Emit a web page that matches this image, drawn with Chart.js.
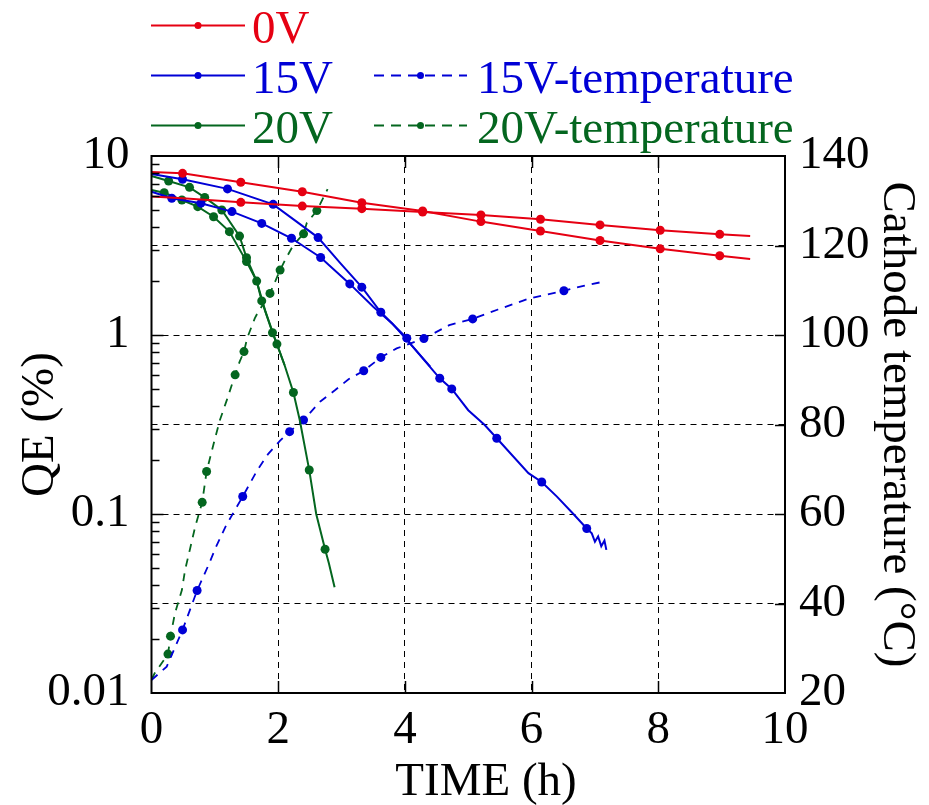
<!DOCTYPE html>
<html>
<head>
<meta charset="utf-8">
<script src="https://cdn.jsdelivr.net/npm/chart.js@4.4.1/dist/chart.umd.min.js"></script>
<style>
html,body{margin:0;padding:0;background:#fff;}
#wrap{width:929px;height:805px;position:relative;}
</style>
</head>
<body>
<div id="wrap"><canvas id="c" width="929" height="805"></canvas></div>
<script>
// ---------- data ----------
const timeMin = 0, timeMax = 10, timeStep = 2;
const qeMin = 0.01, qeMax = 10;
const tempMin = 20, tempMax = 140, tempStep = 20;

// 0V, two runs
const time0V_1 = [0, 0.49, 1.41, 2.38, 3.32, 4.28, 5.2, 6.14, 7.08, 8.03, 8.97, 9.45];
const qe0V_1   = [8.14, 8.0, 7.13, 6.31, 5.48, 4.93, 4.30, 3.81, 3.37, 3.03, 2.77, 2.66];
const time0V_2 = [0, 0.49, 1.41, 2.38, 3.32, 4.28, 5.2, 6.14, 7.08, 8.03, 8.97, 9.45];
const qe0V_2   = [5.93, 5.8, 5.51, 5.25, 5.08, 4.86, 4.68, 4.43, 4.12, 3.85, 3.65, 3.57];

// 15V, two runs
const time15V_1 = [0, 0.49, 1.2, 1.92, 2.29, 2.63, 2.98, 3.32, 3.62, 4.03, 4.1, 4.55, 4.74, 5.0, 5.26, 5.45, 5.95, 6.16, 6.4, 6.66, 6.87, 6.95, 7.0, 7.05, 7.1, 7.15, 7.18];
const qe15V_1   = [7.93, 7.41, 6.55, 5.37, 4.30, 3.50, 2.52, 1.85, 1.34, 0.96, 0.88, 0.573, 0.50, 0.38, 0.314, 0.265, 0.169, 0.151, 0.125, 0.10, 0.083, 0.078, 0.070, 0.075, 0.066, 0.071, 0.063];
const time15V_2 = [0, 0.32, 0.78, 1.27, 1.74, 2.21, 2.67, 3.13, 3.5, 3.8, 4.1, 4.4];
const qe15V_2   = [6.31, 5.81, 5.45, 4.89, 4.2, 3.47, 2.71, 1.93, 1.44, 1.16, 0.88, 0.665];

// 20V, two runs
const time20V_1 = [0, 0.27, 0.6, 0.84, 1.11, 1.39, 1.5, 1.66, 1.74, 1.91, 1.98, 2.1, 2.24, 2.34, 2.49, 2.6, 2.74, 2.8, 2.89];
const qe20V_1   = [7.73, 7.25, 6.68, 5.87, 4.99, 3.57, 2.7, 2.0, 1.55, 1.03, 0.89, 0.68, 0.477, 0.335, 0.176, 0.1, 0.0635, 0.053, 0.039];
const time20V_2 = [0, 0.2, 0.48, 0.73, 0.98, 1.23, 1.5, 1.66, 1.8, 1.95, 2.1];
const qe20V_2   = [6.46, 6.23, 5.68, 5.21, 4.58, 3.78, 2.57, 2.0, 1.35, 0.95, 0.68];

// cathode temperature
const time15V_T = [0, 0.24, 0.49, 0.72, 0.9, 1.02, 1.18, 1.44, 1.67, 1.84, 2.03, 2.18, 2.40, 2.66, 2.9, 3.11, 3.35, 3.62, 3.87, 4.3, 4.7, 5.07, 5.47, 5.97, 6.51, 6.82, 7.13];
const temp15V   = [22.9, 25.9, 34.1, 42.9, 48.6, 52.7, 57.5, 63.9, 69.8, 73.4, 76.4, 78.4, 81, 85.1, 87.7, 90.1, 92, 95, 97, 99.2, 102.2, 103.6, 105.7, 108.2, 109.9, 111, 111.9];
const time20V_T = [0, 0.05, 0.26, 0.3, 0.37, 0.48, 0.53, 0.61, 0.69, 0.8, 0.87, 0.99, 1.08, 1.19, 1.32, 1.39, 1.46, 1.51, 1.63, 1.67, 1.87, 2.03, 2.11, 2.24, 2.4, 2.45, 2.61, 2.78];
const temp20V   = [23, 24.4, 28.7, 32.7, 37.8, 43, 47.5, 52.3, 57.2, 62.6, 69.5, 76.2, 81, 85.5, 91.1, 94, 96.3, 99.3, 103.7, 104.8, 109.3, 114.5, 116.8, 120.1, 122.6, 125, 127.8, 132.6];

const legendLabels = ['0V', '15V', '20V', '15V-temperature', '20V-temperature'];
const xTitle = 'TIME (h)';

// ---------- styling ----------
const RED = '#e60012', BLUE = '#0000d6', GREEN = '#04661f';
const FONT = "'Liberation Serif', 'Times New Roman', serif";
const FS = 47;

function pts(xs, ys) { return xs.map((x, i) => ({ x: x, y: ys[i] })); }
function markRadius(ctx) {
  const m = ctx.dataset.marks || [];
  return m.includes(ctx.dataIndex) ? 4.5 : 0;
}
function qeSet(label, xs, ys, color, marks) {
  return { label, data: pts(xs, ys), yAxisID: 'y', borderColor: color, backgroundColor: color,
    borderWidth: 2, pointRadius: markRadius, pointBorderWidth: 0, pointBackgroundColor: color,
    marks, tension: 0, fill: false };
}
function tSet(label, xs, ys, color, marks) {
  return { label, data: pts(xs, ys), yAxisID: 'y2', borderColor: color, backgroundColor: color,
    borderWidth: 1.8, borderDash: [8, 7], pointRadius: markRadius, pointBorderWidth: 0, pointBackgroundColor: color,
    marks, tension: 0, fill: false };
}

const datasets = [
  qeSet('0V', time0V_1, qe0V_1, RED, [1,2,3,4,5,6,7,8,9,10]),
  qeSet('0V', time0V_2, qe0V_2, RED, [2,3,4,5,6,7,8,9,10]),
  qeSet('15V', time15V_1, qe15V_1, BLUE, [1,2,3,5,7,8,9,11,12,15,17,20]),
  qeSet('15V', time15V_2, qe15V_2, BLUE, [1,2,3,4,5,6,7]),
  qeSet('20V', time20V_1, qe20V_1, GREEN, [1,2,3,4,5,6,7,8,9,10,12,14,16]),
  qeSet('20V', time20V_2, qe20V_2, GREEN, [1,2,3,4,5,6]),
  tSet('15V-temperature', time15V_T, temp15V, BLUE, [2,3,7,11,12,16,17,19,21,24]),
  tSet('20V-temperature', time20V_T, temp20V, GREEN, [2,3,9,10,14,16,20,21,24,26])
];

const isPow10 = v => Math.abs(Math.log10(v) - Math.round(Math.log10(v))) < 1e-9;

// frame, inward tick marks
const framePlugin = {
  id: 'frame',
  afterDatasetsDraw(chart) {
    const { ctx, chartArea: a, scales } = chart;
    ctx.save();
    ctx.strokeStyle = '#000';
    ctx.lineWidth = 1.5;
    ctx.setLineDash([]);
    for (let k = -2; k <= 0; k++) {
      for (let m = 1; m <= 9; m++) {
        const v = m * Math.pow(10, k);
        if (v <= qeMin || v >= qeMax) continue;
        const y = Math.round(scales.y.getPixelForValue(v)) + 0.5;
        ctx.beginPath(); ctx.moveTo(a.left, y); ctx.lineTo(a.left + (m === 1 ? 12 : 8), y); ctx.stroke();
      }
    }
    for (let t = tempMin + tempStep; t < tempMax; t += tempStep) {
      const y = Math.round(scales.y2.getPixelForValue(t)) + 0.5;
      ctx.beginPath(); ctx.moveTo(a.right, y); ctx.lineTo(a.right - 10, y); ctx.stroke();
    }
    for (let t = timeMin + timeStep; t < timeMax; t += timeStep) {
      const x = Math.round(scales.x.getPixelForValue(t)) + 0.5;
      ctx.beginPath(); ctx.moveTo(x, a.bottom); ctx.lineTo(x, a.bottom - 12); ctx.stroke();
      ctx.beginPath(); ctx.moveTo(x, a.top); ctx.lineTo(x, a.top + 12); ctx.stroke();
    }
    ctx.lineWidth = 2;
    ctx.strokeRect(a.left, a.top, a.right - a.left, a.bottom - a.top);
    ctx.restore();
  }
};

// legend at top + x-axis title
const legendPlugin = {
  id: 'topLegend',
  afterDraw(chart) {
    const { ctx } = chart;
    const rows = [
      [{ ds: 0, label: legendLabels[0] }],
      [{ ds: 2, label: legendLabels[1] }, { ds: 6, label: legendLabels[3] }],
      [{ ds: 4, label: legendLabels[2] }, { ds: 7, label: legendLabels[4] }]
    ];
    const cols = [{ x0: 151, x1: 245, tx: 252 }, { x0: 374, x1: 467, tx: 477 }];
    ctx.save();
    ctx.font = FS + 'px ' + FONT;
    ctx.textBaseline = 'alphabetic';
    ctx.textAlign = 'left';
    rows.forEach((row, ri) => {
      const y = 25 + ri * 50;
      row.forEach((item, ci) => {
        const d = chart.data.datasets[item.ds];
        const c = cols[ci];
        ctx.strokeStyle = d.borderColor;
        ctx.fillStyle = d.borderColor;
        ctx.lineWidth = 2;
        ctx.setLineDash(d.borderDash ? [10, 7] : []);
        ctx.beginPath(); ctx.moveTo(c.x0, y + 0.5); ctx.lineTo(c.x1, y + 0.5); ctx.stroke();
        ctx.setLineDash([]);
        ctx.beginPath(); ctx.arc((c.x0 + c.x1) / 2, y + 0.5, 3.5, 0, Math.PI * 2); ctx.fill();
        ctx.fillText(item.label, c.tx, y + 18);
      });
    });
    // x-axis title
    ctx.fillStyle = '#000';
    ctx.textAlign = 'center';
    ctx.fillText(xTitle, 486, 795);
    ctx.restore();
  }
};

const chart = new Chart(document.getElementById('c'), {
  type: 'line',
  data: { datasets },
  options: {
    responsive: false,
    animation: false,
    events: [],
    layout: { padding: { top: 156, left: 0, right: 0, bottom: 0 } },
    plugins: { legend: { display: false }, tooltip: { enabled: false } },
    scales: {
      x: {
        type: 'linear', position: 'bottom', min: timeMin, max: timeMax,
        ticks: { stepSize: timeStep, color: '#000', font: { family: FONT, size: FS }, padding: 9, maxRotation: 0, autoSkip: false },
        grid: { color: '#000', lineWidth: 1, drawTicks: false },
        border: { display: false, dash: [6, 5] },
        title: { display: false },
        afterFit(s) { s.height = 112; }
      },
      y: {
        type: 'logarithmic', position: 'left', min: qeMin, max: qeMax,
        ticks: { color: '#000', font: { family: FONT, size: FS }, padding: 14, autoSkip: false,
          callback: (v) => isPow10(v) ? String(Number(v.toPrecision(1))) : '' },
        grid: { display: false },
        border: { display: false },
        title: { display: true, text: 'QE (%)', color: '#000', font: { family: FONT, size: FS }, padding: { top: 12, bottom: 0 } },
        afterBuildTicks(s) { s.ticks = s.ticks.filter(t => t.value >= qeMin && t.value <= qeMax); },
        afterFit(s) { s.width = 151.5; }
      },
      y2: {
        type: 'linear', position: 'right', min: tempMin, max: tempMax,
        ticks: { stepSize: tempStep, color: '#000', font: { family: FONT, size: FS }, padding: 14 },
        grid: { color: '#000', lineWidth: 1, drawTicks: false, drawOnChartArea: true },
        border: { display: false, dash: [6, 5] },
        title: { display: true, text: 'Cathode temperature (°C)', color: '#000', font: { family: FONT, size: FS }, padding: { top: 4, bottom: 0 } },
        afterFit(s) { s.width = 144; }
      }
    }
  },
  plugins: [framePlugin, legendPlugin]
});
</script>
</body>
</html>
